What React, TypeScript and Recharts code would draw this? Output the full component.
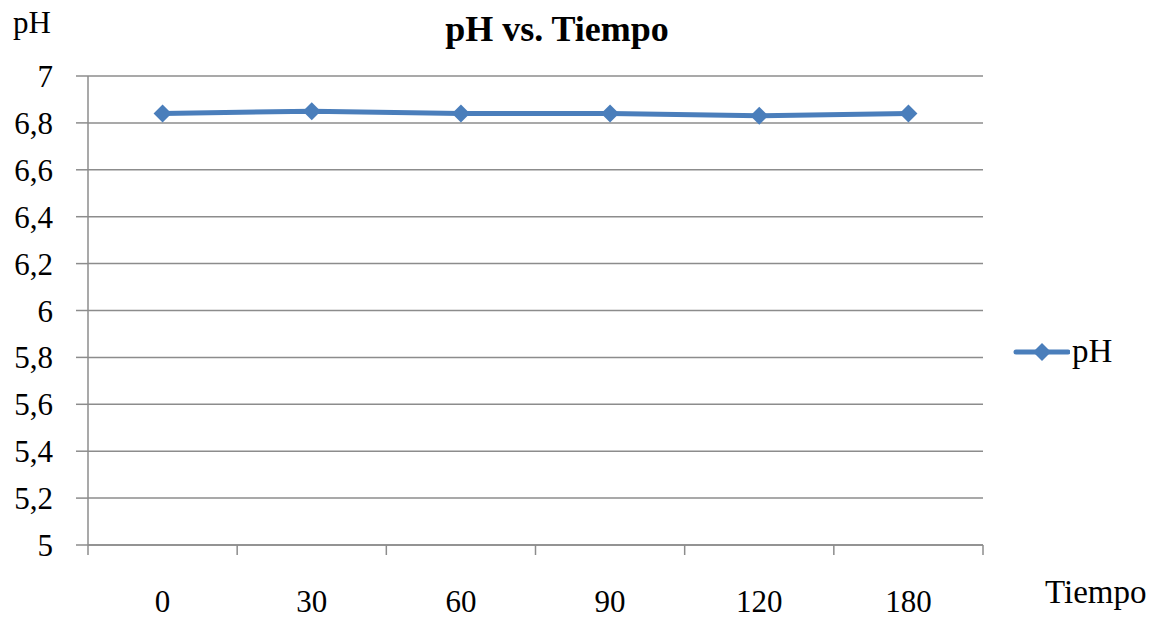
import React from 'react';
import { LineChart, Line, XAxis, YAxis, CartesianGrid } from 'recharts';

const tiempos = ['0', '30', '60', '90', '120', '180'];
const phValues = [6.84, 6.85, 6.84, 6.84, 6.83, 6.84];
const yTicks = [5, 5.2, 5.4, 5.6, 5.8, 6, 6.2, 6.4, 6.6, 6.8, 7];

const chartData = tiempos.map((t, i) => ({ tiempo: t, ph: phValues[i] }));

const FONT = '"Liberation Serif", "Times New Roman", serif';
const BLUE = '#4A7EBB';
const GRID = '#8C8C8C';
const FS = 31;

const W = 1164;
const H = 618;
const PLOT_LEFT = 88;
const PLOT_RIGHT = 983;
const HALF_BAND = (PLOT_RIGHT - PLOT_LEFT) / tiempos.length / 2;

const Diamond = (props: any) => {
  const { cx, cy } = props;
  if (cx == null || cy == null) return null;
  const r = 9;
  return (
    <path
      d={`M${cx},${cy - r} L${cx + r},${cy} L${cx},${cy + r} L${cx - r},${cy} Z`}
      fill={BLUE}
    />
  );
};

const XTick = (props: any) => {
  const { x, y, payload, index } = props;
  const last = index === tiempos.length - 1;
  return (
    <g>
      <line x1={x - HALF_BAND} y1={y} x2={x - HALF_BAND} y2={y + 10} stroke={GRID} strokeWidth={1.5} />
      {last && (
        <line x1={x + HALF_BAND} y1={y} x2={x + HALF_BAND} y2={y + 10} stroke={GRID} strokeWidth={1.5} />
      )}
      <text x={x} y={y + 67} textAnchor="middle" style={{ fontFamily: FONT, fontSize: FS }} fill="#000">
        {payload.value}
      </text>
    </g>
  );
};

export default function App() {
  return (
    <div style={{ position: 'absolute', left: 0, top: 0, width: W, height: H, background: '#fff', fontFamily: FONT }}>
      <LineChart
        width={W}
        height={H}
        data={chartData}
        margin={{ top: 76, right: W - PLOT_RIGHT, left: 0, bottom: 0 }}
        style={{ fontFamily: FONT }}
      >
        <CartesianGrid vertical={false} stroke={GRID} strokeWidth={1.5} />
        <XAxis
          dataKey="tiempo"
          height={73}
          padding={{ left: HALF_BAND, right: HALF_BAND }}
          axisLine={{ stroke: GRID, strokeWidth: 1.5 }}
          tickLine={false}
          tickSize={0}
          tickMargin={0}
          tick={<XTick />}
          interval={0}
        />
        <YAxis
          width={PLOT_LEFT}
          domain={[5, 7]}
          ticks={yTicks}
          interval={0}
          axisLine={{ stroke: GRID, strokeWidth: 1.5 }}
          tickLine={{ stroke: GRID, strokeWidth: 1.5 }}
          tickSize={12}
          tickMargin={23}
          tickFormatter={(v: number) => String(v).replace('.', ',')}
          tick={{ fontSize: FS, fill: '#000', style: { fontFamily: FONT } }}
        />
        <Line
          type="linear"
          dataKey="ph"
          stroke={BLUE}
          strokeWidth={5}
          dot={<Diamond />}
          activeDot={false}
          isAnimationActive={false}
        />
      </LineChart>

      <div style={{ position: 'absolute', left: 0, width: W - 50, top: 8, textAlign: 'center', fontWeight: 'bold', fontSize: 36 }}>
        pH vs. Tiempo
      </div>
      <div style={{ position: 'absolute', left: 13, top: 5, fontSize: FS }}>pH</div>
      <div style={{ position: 'absolute', left: 1045, top: 574, fontSize: 33 }}>Tiempo</div>

      <div style={{ position: 'absolute', left: 1012, top: 333, display: 'flex', alignItems: 'center', fontSize: 33 }}>
        <svg width={58} height={36}>
          <line x1={4} y1={18} x2={56} y2={18} stroke={BLUE} strokeWidth={5} strokeLinecap="round" />
          <path d="M30,9 L39,18 L30,27 L21,18 Z" fill={BLUE} />
        </svg>
        <span style={{ marginLeft: 2 }}>pH</span>
      </div>
    </div>
  );
}
